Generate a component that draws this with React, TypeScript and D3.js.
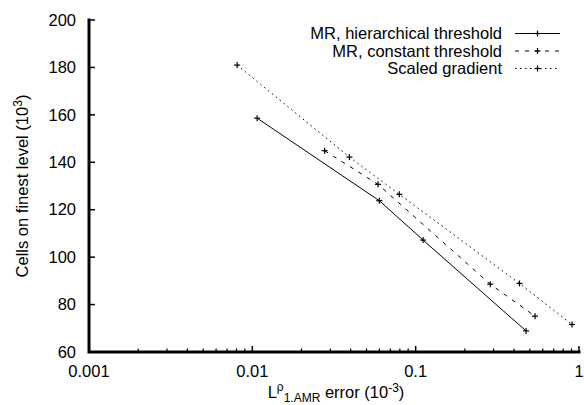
import React from "react";
import * as d3 from "d3";

const hierX = [0.0107, 0.0599, 0.111, 0.474];
const hierY = [158.6, 123.8, 107.2, 68.9];
const constX = [0.0277, 0.0588, 0.286, 0.538];
const constY = [144.9, 130.7, 88.6, 75.1];
const gradX = [0.00807, 0.0393, 0.0794, 0.432, 0.906];
const gradY = [181, 142.2, 126.5, 88.9, 71.6];

const seriesNames = ["MR, hierarchical threshold", "MR, constant threshold", "Scaled gradient"];
const dashes = ["none", "4,6", "1.5,3.5"];
const yTicks = [60, 80, 100, 120, 140, 160, 180, 200];
const xTicks = [0.001, 0.01, 0.1, 1];
const xTickLabels = ["0.001", "0.01", "0.1", "1"];

const W = 584;
const H = 405;
const FONT = "Liberation Sans, Arial, sans-serif";
const FS = 16.5;
const FSS = 12;

export default function App() {
  const x = d3.scaleLog().domain([0.001, 1]).range([89, 579]);
  const y = d3.scaleLinear().domain([60, 200]).range([352, 20]);
  const line = d3
    .line<[number, number]>()
    .x((d) => x(d[0]))
    .y((d) => y(d[1]));

  const series = [
    hierX.map((v, i) => [v, hierY[i]] as [number, number]),
    constX.map((v, i) => [v, constY[i]] as [number, number]),
    gradX.map((v, i) => [v, gradY[i]] as [number, number]),
  ];

  const minor: number[] = [];
  [0.001, 0.01, 0.1].forEach((dec) => {
    for (let k = 2; k <= 9; k++) minor.push(dec * k);
  });

  const plus = (cx: number, cy: number, key: string) => (
    <g key={key} stroke="#000" strokeWidth={1.2}>
      <line x1={cx - 3} x2={cx + 3} y1={cy} y2={cy} />
      <line x1={cx} x2={cx} y1={cy - 3} y2={cy + 3} />
    </g>
  );

  const legendRows = [33.5, 51, 68.5];

  return (
    <svg
      width={W}
      height={H}
      style={{ position: "absolute", left: 0, top: 0, background: "#fff" }}
      fontFamily={FONT}
    >
      <rect width={W} height={H} fill="#fff" />
      {series.map((s, i) => (
        <g key={"s" + i}>
          <path
            d={line(s) || ""}
            fill="none"
            stroke="#000"
            strokeWidth={1}
            strokeDasharray={dashes[i]}
          />
          {s.map((d, j) => plus(x(d[0]), y(d[1]), "p" + i + "-" + j))}
        </g>
      ))}
      <path
        d={`M${x(0.001)},${y(200)} V${y(60)} H${x(1)}`}
        fill="none"
        stroke="#000"
        strokeWidth={3}
        strokeLinejoin="miter"
        strokeLinecap="square"
      />
      {yTicks.map((t) => (
        <g key={"yt" + t}>
          <line x1={x(0.001)} x2={x(0.001) + 6} y1={y(t)} y2={y(t)} stroke="#000" strokeWidth={1.5} />
          <text x={76} y={y(t)} dy="0.35em" textAnchor="end" fontSize={FS}>
            {t}
          </text>
        </g>
      ))}
      {xTicks.map((t, i) => (
        <g key={"xt" + t}>
          <line x1={x(t)} x2={x(t)} y1={y(60)} y2={y(60) - 6} stroke="#000" strokeWidth={1.5} />
          <text x={x(t)} y={371} dy="0.35em" textAnchor="middle" fontSize={FS}>
            {xTickLabels[i]}
          </text>
        </g>
      ))}
      {minor.map((t) => (
        <line key={"mt" + t} x1={x(t)} x2={x(t)} y1={y(60)} y2={y(60) - 3.5} stroke="#000" strokeWidth={1.2} />
      ))}
      <text x={336} y={398} textAnchor="middle" fontSize={FS}>
        L<tspan fontSize={FSS} dy={-7}>ρ</tspan>
        <tspan fontSize={FSS} dy={11}>1.AMR</tspan>
        <tspan dy={-4}> error (10</tspan>
        <tspan fontSize={FSS} dy={-6}>-3</tspan>
        <tspan dy={6}>)</tspan>
      </text>
      <text
        transform={`translate(22,${(y(60) + y(200)) / 2}) rotate(-90)`}
        textAnchor="middle"
        fontSize={FS}
        dy="0.35em"
      >
        Cells on finest level (10<tspan fontSize={FSS} dy={-6}>3</tspan>
        <tspan dy={6}>)</tspan>
      </text>
      {seriesNames.map((n, i) => (
        <g key={"lg" + i}>
          <text x={502} y={legendRows[i]} dy="0.35em" textAnchor="end" fontSize={FS}>
            {n}
          </text>
          <line
            x1={515}
            x2={560}
            y1={legendRows[i]}
            y2={legendRows[i]}
            stroke="#000"
            strokeWidth={1}
            strokeDasharray={dashes[i]}
          />
          {plus(537.5, legendRows[i], "lp" + i)}
        </g>
      ))}
    </svg>
  );
}
